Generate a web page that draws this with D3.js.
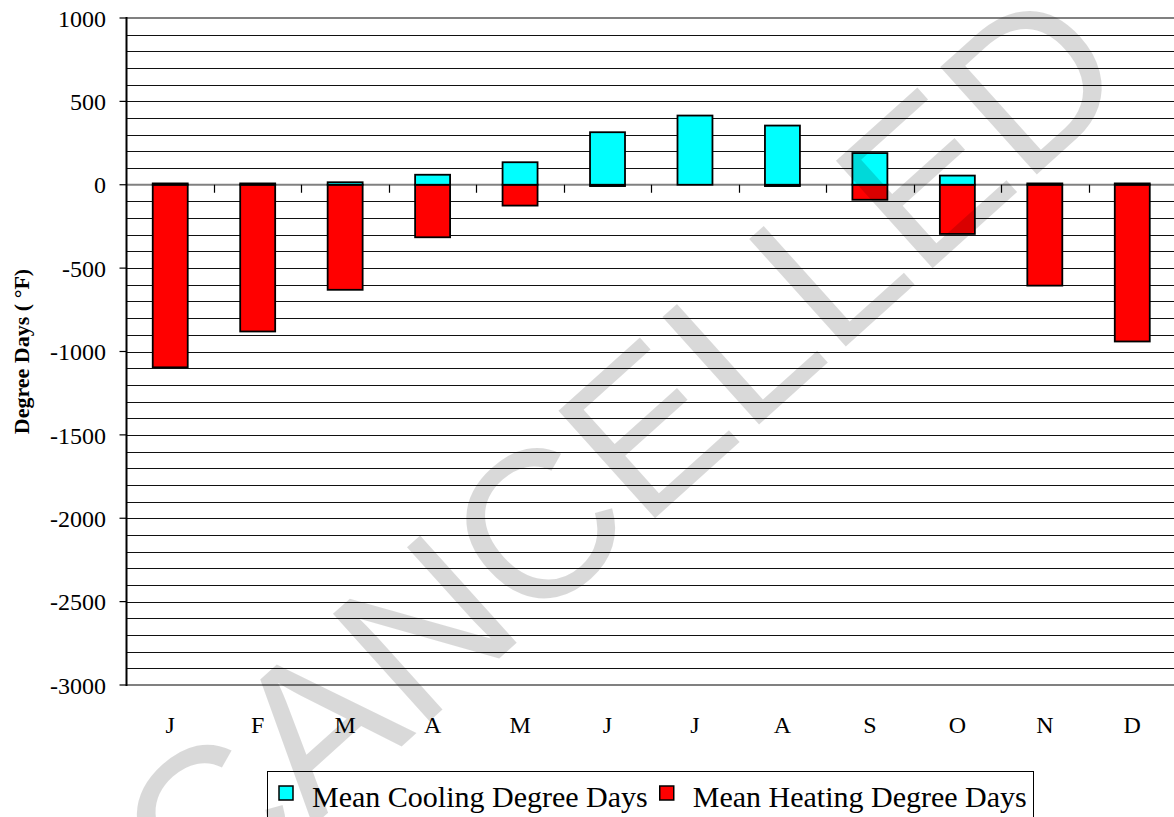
<!DOCTYPE html>
<html>
<head>
<meta charset="utf-8">
<script src="https://cdn.jsdelivr.net/npm/d3@7"></script>
<style>
  body { margin: 0; background: #fff; }
  svg { display: block; }
  text { font-family: "Liberation Serif", "Times New Roman", serif; }
</style>
</head>
<body>
<div id="chart"></div>
<script>
// monthly values
var months = ["J", "F", "M", "A", "M", "J", "J", "A", "S", "O", "N", "D"]
var cooling = [8, 8, 15, 60, 135, 315, 415, 355, 190, 55, 8, 8]
var heating = [-1095, -880, -630, -315, -125, -8, 0, -8, -90, -295, -605, -940]
var yTicks = [1000, 500, 0, -500, -1000, -1500, -2000, -2500, -3000]
var seriesNames = ["Mean Cooling Degree Days", "Mean Heating Degree Days"]
var seriesColors = ["#00ffff", "#ff0000"]

var width = 1174
var height = 817
var plotLeft = 126.5, plotRight = 1176, plotTop = 18, plotBottom = 685

var svg = d3.select("#chart")
  .append("svg")
  .attr("width", width)
  .attr("height", height)

var x = d3.scaleBand()
  .domain(d3.range(months.length))
  .range([plotLeft, plotRight])

var y = d3.scaleLinear()
  .domain([-3000, 1000])
  .range([plotBottom, plotTop])

var barW = x.bandwidth() * 0.4

// minor gridlines every 100
var grid = d3.range(-2900, 1000, 100).filter(function (v) { return v != 0 })
svg.append("g")
  .selectAll("line")
  .data(grid)
  .enter()
  .append("line")
  .attr("x1", plotLeft)
  .attr("x2", plotRight)
  .attr("y1", function (d) { return Math.round(y(d)) + 0.5 })
  .attr("y2", function (d) { return Math.round(y(d)) + 0.5 })
  .attr("stroke", "#111")
  .attr("stroke-width", 1)

// top and bottom border lines
svg.append("g")
  .selectAll("line")
  .data([1000, -3000])
  .enter()
  .append("line")
  .attr("x1", plotLeft)
  .attr("x2", plotRight)
  .attr("y1", function (d) { return y(d) })
  .attr("y2", function (d) { return y(d) })
  .attr("stroke", "#808080")
  .attr("stroke-width", 2)

// zero line
svg.append("line")
  .attr("x1", plotLeft)
  .attr("x2", plotRight)
  .attr("y1", y(0))
  .attr("y2", y(0))
  .attr("stroke", "#808080")
  .attr("stroke-width", 2)

// category tick marks along the zero line
svg.append("g")
  .selectAll("line")
  .data(d3.range(1, months.length))
  .enter()
  .append("line")
  .attr("x1", function (d) { return Math.round(x(d)) + 0.5 })
  .attr("x2", function (d) { return Math.round(x(d)) + 0.5 })
  .attr("y1", y(0))
  .attr("y2", y(0) + 8)
  .attr("stroke", "#000")
  .attr("stroke-width", 1.2)

// bars
var bars = svg.append("g")
bars.selectAll(".heat")
  .data(heating)
  .enter()
  .append("rect")
  .attr("x", function (d, i) { return x(i) + (x.bandwidth() - barW) / 2 })
  .attr("y", y(0))
  .attr("width", barW)
  .attr("height", function (d) { return y(d) - y(0) })
  .attr("fill", seriesColors[1])
  .attr("stroke", "#000")
  .attr("stroke-width", 1.8)

bars.selectAll(".cool")
  .data(cooling)
  .enter()
  .append("rect")
  .attr("x", function (d, i) { return x(i) + (x.bandwidth() - barW) / 2 })
  .attr("y", function (d) { return y(d) })
  .attr("width", barW)
  .attr("height", function (d) { return y(0) - y(d) })
  .attr("fill", seriesColors[0])
  .attr("stroke", "#000")
  .attr("stroke-width", 1.8)

// y axis
svg.append("line")
  .attr("x1", plotLeft)
  .attr("x2", plotLeft)
  .attr("y1", plotTop - 1)
  .attr("y2", plotBottom + 1)
  .attr("stroke", "#000")
  .attr("stroke-width", 2)

svg.append("g")
  .selectAll("line")
  .data(yTicks)
  .enter()
  .append("line")
  .attr("x1", plotLeft - 7)
  .attr("x2", plotLeft)
  .attr("y1", function (d) { return y(d) })
  .attr("y2", function (d) { return y(d) })
  .attr("stroke", "#000")
  .attr("stroke-width", 1.2)

svg.append("g")
  .selectAll("text")
  .data(yTicks)
  .enter()
  .append("text")
  .attr("x", 106)
  .attr("y", function (d) { return y(d) })
  .attr("dy", "0.36em")
  .attr("text-anchor", "end")
  .style("font-size", "24px")
  .text(function (d) { return d })

// month labels
svg.append("g")
  .selectAll("text")
  .data(months)
  .enter()
  .append("text")
  .attr("x", function (d, i) { return x(i) + x.bandwidth() / 2 })
  .attr("y", 733)
  .attr("text-anchor", "middle")
  .style("font-size", "24px")
  .text(function (d) { return d })

// y axis title
svg.append("text")
  .attr("transform", "translate(29," + ((plotTop + plotBottom) / 2) + ") rotate(-90)")
  .attr("text-anchor", "middle")
  .style("font-size", "22px")
  .style("font-weight", "bold")
  .text("Degree Days ( \u00b0F)")

// legend
var legend = svg.append("g")
legend.append("rect")
  .attr("x", 267.5)
  .attr("y", 771.5)
  .attr("width", 766)
  .attr("height", 80)
  .attr("fill", "#fff")
  .attr("stroke", "#000")
  .attr("stroke-width", 1)

var lx = 279
seriesNames.forEach(function (name, i) {
  legend.append("rect")
    .attr("x", lx)
    .attr("y", 786)
    .attr("width", 14)
    .attr("height", 14)
    .attr("fill", seriesColors[i])
    .attr("stroke", "#000")
    .attr("stroke-width", 1.5)
  var t = legend.append("text")
    .attr("x", lx + 33)
    .attr("y", 807)
    .style("font-size", "30px")
    .text(name)
  lx = lx + 33 + t.node().getComputedTextLength() + 12
})

// watermark
svg.append("text")
  .attr("transform", "translate(200,928) rotate(-42)")
  .style("font-family", "'Liberation Sans', Arial, sans-serif")
  .style("font-size", "210px")
  .attr("fill", "#000")
  .attr("fill-opacity", 0.15)
  .text("CANCELLED")
</script>
</body>
</html>
